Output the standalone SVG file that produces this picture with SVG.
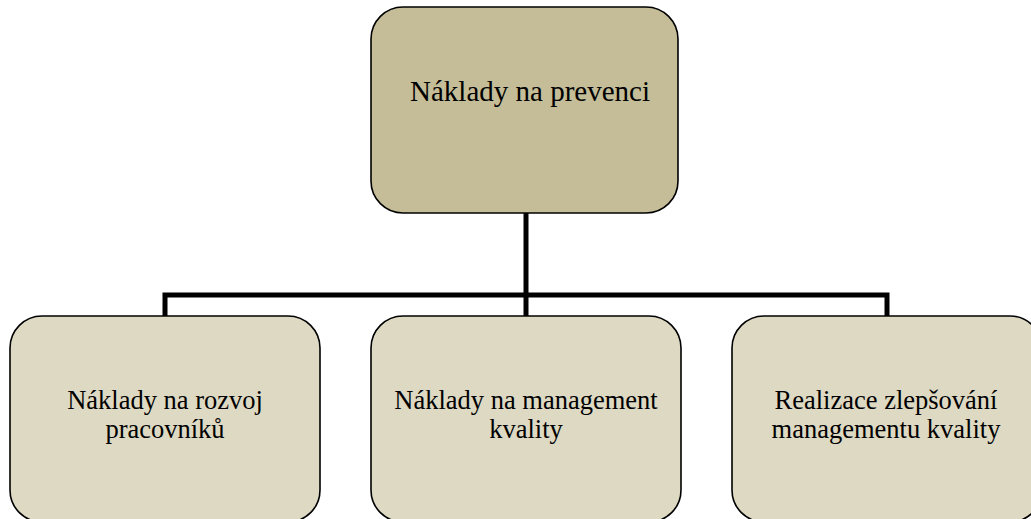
<svg xmlns="http://www.w3.org/2000/svg" width="1031" height="519" viewBox="0 0 1031 519">
  <style>
    .box { stroke: #000; stroke-width: 1.6; }
    .root { fill: #c4bd97; }
    .leaf { fill: #ddd9c3; }
    .label { font-family: "Liberation Serif", "Times New Roman", serif; fill: #000; text-anchor: middle; }
    .lg { font-size: 29px; }
    .sm { font-size: 26.5px; }
    .conn { fill: none; stroke: #000; stroke-width: 5; stroke-linejoin: miter; }
  </style>
  <rect width="1031" height="519" fill="#fff"/>

  <!-- tree connectors -->
  <g id="connectors">
    <path class="conn" d="M526 213 V316"/>
    <path class="conn" d="M165 316 V295 H887 V316"/>
  </g>

  <g id="node-root">
    <rect class="box root" x="371" y="7" width="307" height="206" rx="32" ry="32"/>
    <text class="label lg" x="530" y="101">Náklady na prevenci</text>
  </g>

  <g id="node-rozvoj">
    <rect class="box leaf" x="10" y="316" width="310" height="206" rx="32" ry="32"/>
    <text class="label sm" x="165" y="409">Náklady na rozvoj</text>
    <text class="label sm" x="165" y="438">pracovníků</text>
  </g>

  <g id="node-management">
    <rect class="box leaf" x="371" y="316" width="310" height="206" rx="32" ry="32"/>
    <text class="label sm" x="526" y="409">Náklady na management</text>
    <text class="label sm" x="526" y="438">kvality</text>
  </g>

  <g id="node-realizace">
    <rect class="box leaf" x="732" y="316" width="310" height="206" rx="32" ry="32"/>
    <text class="label sm" x="886" y="409">Realizace zlepšování</text>
    <text class="label sm" x="886" y="438">managementu kvality</text>
  </g>
</svg>
